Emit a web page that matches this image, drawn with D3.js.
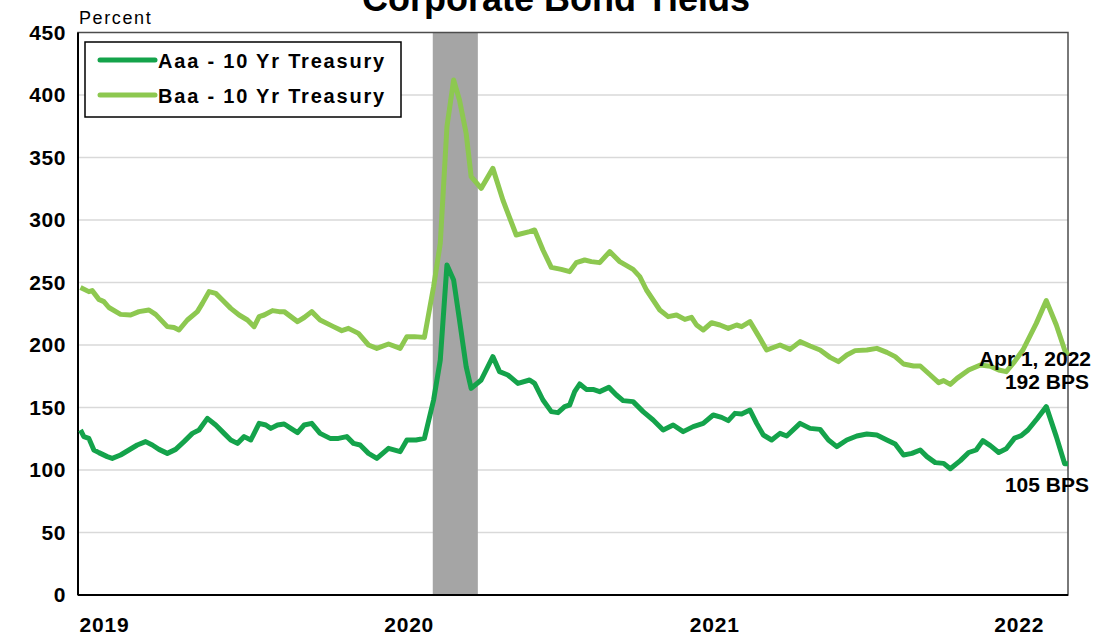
<!DOCTYPE html>
<html><head><meta charset="utf-8">
<script src="https://cdn.jsdelivr.net/npm/d3@7"></script>
<style>
body{margin:0;background:#fff;}
svg{display:block;font-family:"Liberation Sans",Arial,sans-serif;}
</style>
</head><body>
<svg id="chart" width="1094" height="638"></svg>
<script>
const chartTitle = "Corporate Bond Yields";
const yAxisLabel = "Percent";
const yTicks = [0, 50, 100, 150, 200, 250, 300, 350, 400, 450];
const yearTicks = ["2019-01-01", "2020-01-01", "2021-01-01", "2022-01-01"];
const yearLabels = ["2019", "2020", "2021", "2022"];
const xDomain = ["2019-01-01", "2022-04-01"];
const recession = ["2020-03-01", "2020-04-24"];
const seriesNames = ["Aaa - 10 Yr Treasury", "Baa - 10 Yr Treasury"];
const seriesColors = ["#14a34b", "#8dc850"];
const endDateLabel = "Apr 1, 2022";
const baaEndLabel = "192 BPS";
const aaaEndLabel = "105 BPS";

const aaaDates = ["2019-01-04","2019-01-08","2019-01-14","2019-01-20","2019-01-26","2019-02-05","2019-02-11","2019-02-21","2019-03-03","2019-03-13","2019-03-23","2019-03-31","2019-04-08","2019-04-18","2019-04-28","2019-05-08","2019-05-18","2019-05-26","2019-06-05","2019-06-15","2019-06-25","2019-07-03","2019-07-11","2019-07-19","2019-07-27","2019-08-06","2019-08-14","2019-08-20","2019-08-28","2019-09-05","2019-09-13","2019-09-21","2019-09-29","2019-10-08","2019-10-18","2019-10-30","2019-11-09","2019-11-19","2019-11-27","2019-12-05","2019-12-15","2019-12-25","2020-01-08","2020-01-22","2020-01-30","2020-02-10","2020-02-20","2020-03-02","2020-03-10","2020-03-18","2020-03-26","2020-04-02","2020-04-10","2020-04-16","2020-04-28","2020-05-12","2020-05-20","2020-05-30","2020-06-11","2020-06-25","2020-07-01","2020-07-11","2020-07-21","2020-07-29","2020-08-06","2020-08-12","2020-08-18","2020-08-24","2020-09-01","2020-09-09","2020-09-17","2020-09-28","2020-10-07","2020-10-15","2020-10-27","2020-11-08","2020-11-20","2020-12-02","2020-12-14","2020-12-26","2021-01-07","2021-01-19","2021-01-31","2021-02-10","2021-02-18","2021-02-26","2021-03-06","2021-03-16","2021-03-24","2021-04-01","2021-04-11","2021-04-21","2021-04-29","2021-05-15","2021-05-27","2021-06-08","2021-06-18","2021-06-28","2021-07-10","2021-07-22","2021-08-03","2021-08-15","2021-08-27","2021-09-06","2021-09-16","2021-09-26","2021-10-06","2021-10-14","2021-10-24","2021-11-03","2021-11-11","2021-11-23","2021-12-03","2021-12-12","2021-12-20","2021-12-29","2022-01-08","2022-01-17","2022-01-27","2022-02-04","2022-02-12","2022-02-23","2022-03-06","2022-03-18","2022-03-28","2022-04-01"];
const aaaValues = [132,126.7,125.3,116,113.9,110.7,109.3,112,116,120,122.7,120,116.5,113.3,116.5,122.7,129.3,132,141.3,136,129.3,124,121.3,126.7,124,137.3,136,133.3,136,136.8,133.3,129.9,136,137.3,129.3,125.3,125.3,126.7,121.3,120,113.3,109.3,117.3,114.7,124,124,125.3,156,188,264,252,220,182.7,165.3,172,190.7,178.7,176,169.3,172,169.3,156,146.7,145.9,150.7,152,162.7,168.8,164.5,164.5,162.7,166.1,160,155.5,154.7,146.7,140,132,136,130.7,134.7,137.3,144,142.1,139.5,145.3,144.8,148,137.3,128,124,129.3,127.2,137.3,133.3,132.5,124,118.7,124,127.2,128.8,128,124,120.8,112,113.3,116,110.7,105.9,105.3,101,107.5,114,116,123.5,119.5,114,117,125.5,127.5,132,141,150.7,126.7,105,105];

const baaDates = ["2019-01-04","2019-01-14","2019-01-18","2019-01-26","2019-02-01","2019-02-07","2019-02-21","2019-03-05","2019-03-15","2019-03-27","2019-04-04","2019-04-18","2019-04-26","2019-05-02","2019-05-12","2019-05-24","2019-05-30","2019-06-07","2019-06-15","2019-06-23","2019-07-03","2019-07-13","2019-07-23","2019-07-31","2019-08-06","2019-08-12","2019-08-22","2019-08-30","2019-09-05","2019-09-13","2019-09-21","2019-09-29","2019-10-08","2019-10-18","2019-11-03","2019-11-13","2019-11-21","2019-12-03","2019-12-15","2019-12-25","2020-01-08","2020-01-22","2020-01-30","2020-02-08","2020-02-20","2020-03-02","2020-03-10","2020-03-18","2020-03-26","2020-04-02","2020-04-10","2020-04-16","2020-04-28","2020-05-12","2020-05-24","2020-06-09","2020-06-25","2020-07-01","2020-07-11","2020-07-21","2020-08-02","2020-08-12","2020-08-20","2020-08-30","2020-09-07","2020-09-17","2020-09-29","2020-10-11","2020-10-27","2020-11-04","2020-11-12","2020-11-28","2020-12-08","2020-12-18","2020-12-28","2021-01-05","2021-01-11","2021-01-19","2021-01-29","2021-02-08","2021-02-18","2021-02-28","2021-03-06","2021-03-16","2021-03-28","2021-04-05","2021-04-21","2021-05-03","2021-05-15","2021-05-27","2021-06-08","2021-06-20","2021-06-30","2021-07-10","2021-07-20","2021-08-03","2021-08-15","2021-08-27","2021-09-06","2021-09-16","2021-09-28","2021-10-06","2021-10-18","2021-10-28","2021-11-03","2021-11-11","2021-11-19","2021-12-03","2021-12-17","2021-12-29","2022-01-08","2022-01-17","2022-01-27","2022-02-06","2022-02-22","2022-03-06","2022-03-18","2022-03-28","2022-04-01"];
const baaValues = [246,242.7,243.5,236.5,234.7,230,224.5,224,226.7,228,224.5,214.7,214,212,220,226.7,233.3,242.7,241.3,236,229.3,224,220,214.7,222.7,224,227.5,226.7,226.7,222.7,218.7,222,226.7,220,214.7,211.5,213.3,209.3,200,197.3,200.8,197.3,206.7,206.7,206.1,246.7,281.3,374.7,412,396,369.3,334.7,325.3,341.3,316,288,290.7,292,276,262.1,260.5,258.7,265.9,268,266.7,265.9,274.7,266.7,260.5,254.7,244,228,222.7,224,220.5,222.1,216,212,217.8,216,213.3,216,214.7,218.7,205.3,196,200,196.5,202.7,199.2,196,190.1,186.7,192,195.5,196,197.3,194.1,190.7,184.8,183.2,183.2,176,169.9,171.5,168.5,173.3,180,184,183,180,178.7,186.7,196,217.3,235.5,216,196,192];

const parse = d3.timeParse("%Y-%m-%d");
const aaa = aaaDates.map((d, i) => ({date: parse(d), value: aaaValues[i]}));
const baa = baaDates.map((d, i) => ({date: parse(d), value: baaValues[i]}));

const svg = d3.select("#chart");
const m = {left: 78, right: 1068, top: 32.5, bottom: 595};

const x = d3.scaleTime().domain(xDomain.map(parse)).range([m.left, m.right]);
const y = d3.scaleLinear().domain([0, 450]).range([m.bottom, m.top]);

// gridlines
svg.append("g").selectAll("line").data(yTicks.filter(t => t > 0 && t < 450)).join("line")
  .attr("x1", m.left).attr("x2", m.right)
  .attr("y1", d => y(d)).attr("y2", d => y(d))
  .attr("stroke", "#d9d9d9").attr("stroke-width", 1.5);

// recession band
svg.append("rect")
  .attr("x", x(parse(recession[0]))).attr("y", m.top)
  .attr("width", x(parse(recession[1])) - x(parse(recession[0])))
  .attr("height", m.bottom - m.top)
  .attr("fill", "#a5a5a5");

// frame
svg.append("rect").attr("x", m.left).attr("y", m.top)
  .attr("width", m.right - m.left).attr("height", m.bottom - m.top)
  .attr("fill", "none").attr("stroke", "#4d4d4d").attr("stroke-width", 1.5);
svg.append("line").attr("x1", m.left).attr("x2", m.left).attr("y1", m.top).attr("y2", m.bottom)
  .attr("stroke", "#000").attr("stroke-width", 2);
svg.append("line").attr("x1", m.left).attr("x2", m.right).attr("y1", m.bottom).attr("y2", m.bottom)
  .attr("stroke", "#000").attr("stroke-width", 2);

// y axis labels
const yAxis = d3.axisLeft(y).tickValues(yTicks).tickSize(0).tickPadding(12);
const gy = svg.append("g").attr("transform", `translate(${m.left},0)`).call(yAxis);
gy.select(".domain").remove();
gy.selectAll("text").attr("font-size", 21).attr("font-weight", "bold").attr("fill", "#000")
  .attr("font-family", "Liberation Sans, Arial, sans-serif").style("letter-spacing", "0.6px");

// x axis labels
const xAxis = d3.axisBottom(x).tickValues(yearTicks.map(parse)).tickSize(0)
  .tickFormat((d, i) => yearLabels[i]);
const gx = svg.append("g").attr("transform", `translate(0,${m.bottom})`).call(xAxis);
gx.select(".domain").remove();
gx.selectAll("text").attr("font-size", 21).attr("font-weight", "bold").attr("fill", "#000")
  .attr("font-family", "Liberation Sans, Arial, sans-serif")
  .attr("text-anchor", "start").attr("dy", 0).attr("y", 37).attr("x", 1)
  .style("letter-spacing", "0.8px");

// lines
const line = d3.line().x(d => x(d.date)).y(d => y(d.value));
svg.append("path").datum(baa).attr("d", line).attr("fill", "none")
  .attr("stroke", seriesColors[1]).attr("stroke-width", 5).attr("stroke-linejoin", "round");
svg.append("path").datum(aaa).attr("d", line).attr("fill", "none")
  .attr("stroke", seriesColors[0]).attr("stroke-width", 5).attr("stroke-linejoin", "round");

// title (top of it lies above the page edge, as in the reference)
svg.append("text").attr("x", 556).attr("y", 11).attr("text-anchor", "middle")
  .attr("font-size", 36).attr("font-weight", "bold").text(chartTitle);

svg.append("text").attr("x", 79).attr("y", 24).attr("font-size", 18)
  .style("letter-spacing", "1.6px").text(yAxisLabel);

// legend
const lg = svg.append("g");
lg.append("rect").attr("x", 85).attr("y", 42).attr("width", 316).attr("height", 75)
  .attr("fill", "#fff").attr("stroke", "#000").attr("stroke-width", 1.5);
const legendRows = [60, 95];
seriesNames.forEach((name, i) => {
  lg.append("line").attr("x1", 100).attr("x2", 155).attr("y1", legendRows[i]).attr("y2", legendRows[i])
    .attr("stroke", seriesColors[i]).attr("stroke-width", 5).attr("stroke-linecap", "round");
  lg.append("text").attr("x", 158).attr("y", legendRows[i] + 8).attr("font-size", 20)
    .attr("font-weight", "bold").style("letter-spacing", "1.8px").text(name);
});

// end annotations
const lastX = x(parse(xDomain[1]));
const ann = svg.append("g").attr("font-size", 21).attr("font-weight", "bold").attr("text-anchor", "end");
ann.append("text").attr("x", lastX + 23).attr("y", 366).text(endDateLabel);
ann.append("text").attr("x", lastX + 21).attr("y", 389).text(baaEndLabel);
ann.append("text").attr("x", lastX + 21).attr("y", 492).text(aaaEndLabel);
</script>
</body></html>
